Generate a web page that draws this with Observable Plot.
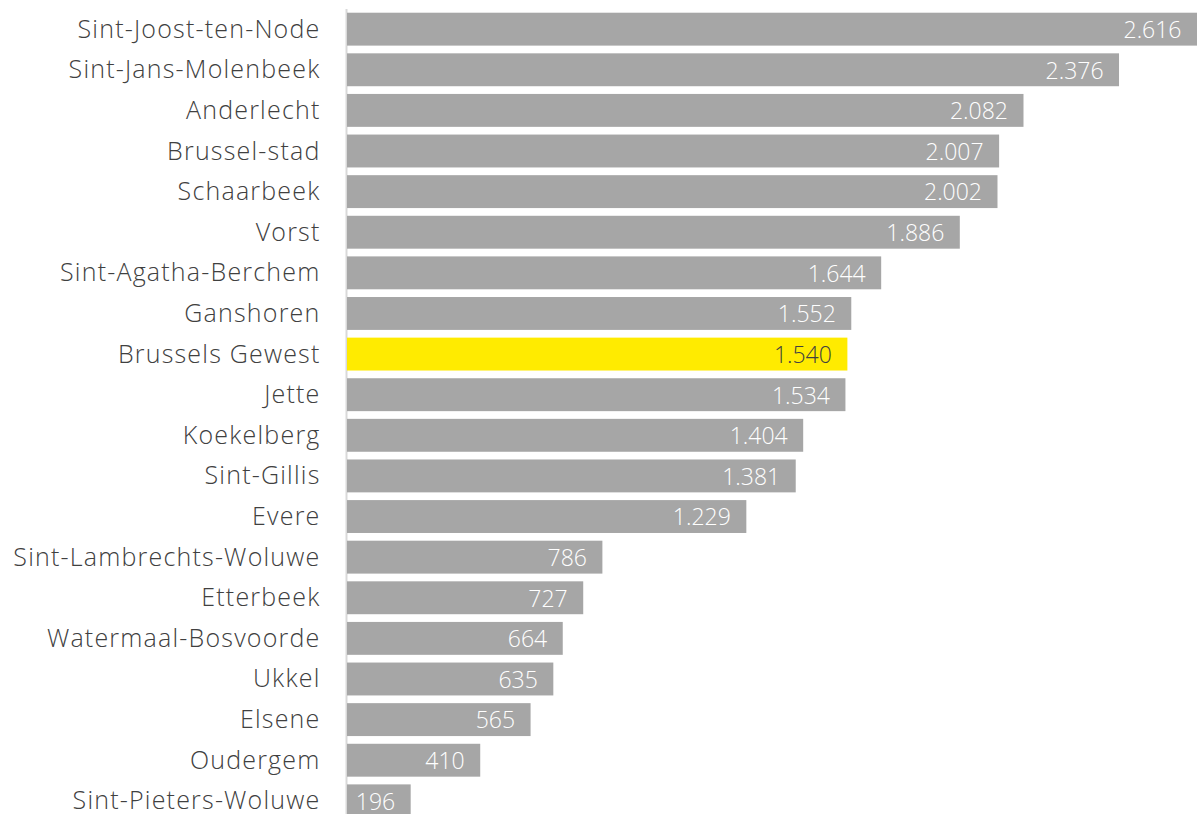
<!DOCTYPE html>
<html><head><meta charset="utf-8">
<script src="https://cdn.jsdelivr.net/npm/d3@7"></script>
<script src="https://cdn.jsdelivr.net/npm/@observablehq/plot@0.6"></script>
<style>
body{margin:0;background:#fff;}
svg{font-family:"Open Sans",sans-serif;}
</style></head><body>
<div id="chart"></div>
<script>
const communes = ["Sint-Joost-ten-Node","Sint-Jans-Molenbeek","Anderlecht","Brussel-stad","Schaarbeek","Vorst","Sint-Agatha-Berchem","Ganshoren","Brussels Gewest","Jette","Koekelberg","Sint-Gillis","Evere","Sint-Lambrechts-Woluwe","Etterbeek","Watermaal-Bosvoorde","Ukkel","Elsene","Oudergem","Sint-Pieters-Woluwe"];
const values = [2616,2376,2082,2007,2002,1886,1644,1552,1540,1534,1404,1381,1229,786,727,664,635,565,410,196];
const highlight = "Brussels Gewest";

const data = communes.map((c,i)=>({name:c, value:values[i], hl:c===highlight}));
const fmt = v => String(v).replace(/\B(?=(\d{3})+(?!\d))/g, ".");

const chart = Plot.plot({
  width:1200, height:814,
  marginLeft:347, marginRight:3, marginTop:9, marginBottom:0,
  x:{domain:[0,2616], range:[347,1197], axis:null},
  y:{domain:communes, range:[5,825], padding:0.19, round:false, label:null},
  style:{fontFamily:"Open Sans", fontWeight:300, color:"#404040"},
  marks:[
    Plot.ruleX([0],{stroke:"#d9d9d9", strokeWidth:2, dx:-1}),
    Plot.barX(data,{x:"value", y:"name", fill:d=>d.hl?"#ffeb00":"#a6a6a6"}),
    Plot.text(data,{x:"value", y:"name", text:d=>fmt(d.value), textAnchor:"end", dx:-16, dy:1, fill:d=>d.hl?"#404040":"#ffffff", fontSize:23, fontWeight:300}),
    Plot.axisY({tickSize:0, tickPadding:27, fontSize:25, fill:"#404040", label:null})
  ]
});
chart.querySelectorAll("[aria-label='y-axis tick label'] text, [aria-label='y-axis tick label']").forEach(e=>e.setAttribute("letter-spacing","1.2"));
document.getElementById("chart").append(chart);
</script>
</body></html>
